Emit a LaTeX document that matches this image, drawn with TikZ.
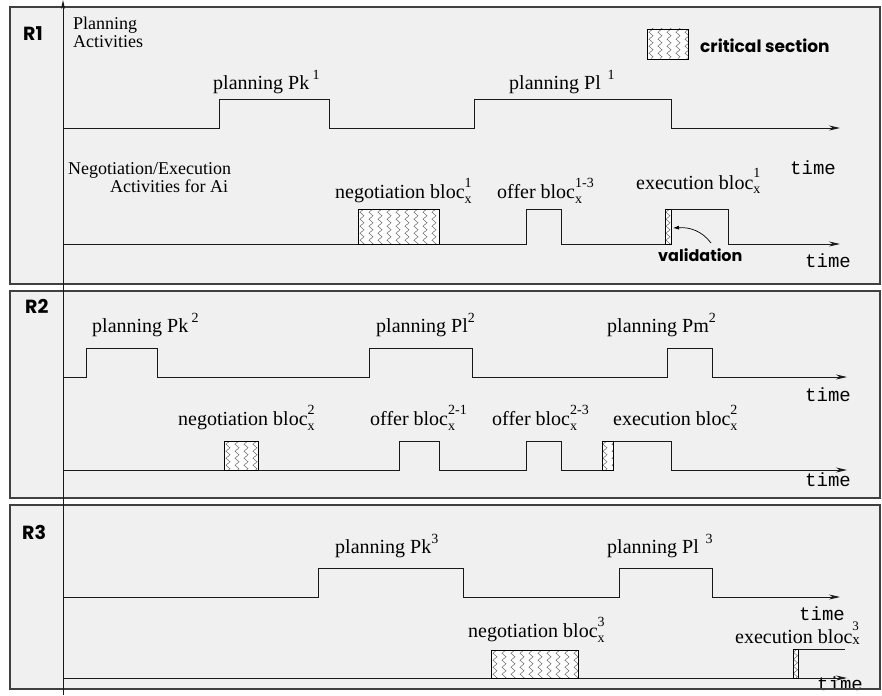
\documentclass[tikz,border=0pt]{standalone}
\usepackage{fontspec}
\setmainfont{Liberation Serif}
\newfontfamily\monof{Liberation Mono}
\newfontfamily\gfont{Poppins}
\usetikzlibrary{arrows.meta,decorations.pathmorphing}
\newcommand\upnum[1]{\raisebox{0.5em}{\fontsize{14}{14}\selectfont #1}}
\newcommand\blocx[1]{bloc\rlap{\raisebox{-0.25em}{\fontsize{14}{14}\selectfont x}}\raisebox{0.55em}{\fontsize{14}{14}\selectfont #1}}
\tikzset{
  panel/.style={draw=black!75, line width=1.3pt, fill=black!6},
  sig/.style={line width=0.9pt, draw=black!90},
  sigarrow/.style={sig, -{Stealth[length=11pt,width=5pt]}},
  lbl/.style={anchor=base west, inner sep=0pt, font=\fontsize{20}{22}\selectfont},
  axlbl/.style={anchor=base west, inner sep=0pt, font=\fontsize{18}{18}\selectfont},
  timelbl/.style={anchor=base west, inner sep=0pt, font=\monof\fontsize{19}{20}\selectfont},
  rlbl/.style={anchor=base west, inner sep=0pt, font=\gfont\bfseries\fontsize{19}{20}\selectfont},
  zz/.style={draw=black!70, line width=0.4pt, decorate, decoration={zigzag, segment length=7pt, amplitude=2pt}},
  critframe/.style={draw=black, line width=0.9pt}
}
% critical section box: x1 y1 x2 y2 first-line-offset spacing
\newcommand\critbox[6]{%
  \begin{scope}
    \clip (#1,#2) rectangle (#3,#4);
    \fill[white] (#1,#2) rectangle (#3,#4);
    \pgfmathsetmacro\zxa{#1+#5}\pgfmathsetmacro\zxb{#1+#5+#6}\pgfmathsetmacro\zxe{#3+1}
    \foreach \xx in {\zxa,\zxb,...,\zxe} \draw[zz] (\xx,#2-2) -- (\xx,#4+2);
  \end{scope}
  \draw[critframe] (#1,#2) rectangle (#3,#4);}
\begin{document}
\begin{tikzpicture}[x=1pt,y=-1pt]
\useasboundingbox (0,0) rectangle (882,695);
\fill[white] (0,0) rectangle (882,695);
% panels
\draw[panel] (10,7) rectangle (880,284);
\draw[panel] (10,291) rectangle (880,498);
\draw[panel] (10,505) rectangle (880,689);
\node[rlbl] (r1) at (23,41) {R1};
\node[rlbl] (r2) at (25,313) {R2};
\node[rlbl] (r3) at (22,539) {R3};
% ---------- R1
\node[axlbl] (pa1) at (73,30) {Planning};
\node[axlbl] (pa2) at (73,48) {Activities};
\node[axlbl] (ne1) at (68,175) {Negotiation/Execution};
\node[axlbl] (ne2) at (110,192) {Activities for Ai};
\critbox{647}{29}{688}{59}{4}{9}
\node[rlbl, font=\gfont\bfseries\fontsize{17}{18}\selectfont] (cs) at (700,53) {critical section};
\draw[sigarrow] (63,128) -- (219,128) -- (219,99) -- (329,99) -- (329,128) -- (474,128) -- (474,99) -- (671,99) -- (671,128) -- (840,128);
\node[lbl] (p1k) at (213,90) {planning Pk\,\upnum{1}};
\node[lbl] (p1l) at (509,90) {planning Pl\,\,\upnum{1}};
\node[timelbl] (t1a) at (790,175) {time};
\draw[sig] (63,244) -- (358,244);
\critbox{358}{209}{439}{244}{4}{9}
\draw[sig] (439,244) -- (526,244) -- (526,209) -- (561,209) -- (561,244) -- (665,244);
\critbox{665}{209}{671}{244}{3}{9}
\draw[sig] (671,209) -- (728,209) -- (728,244);
\draw[sigarrow] (728,244) -- (840,244);
\node[lbl] (n1) at (335,198) {negotiation \blocx{1}};
\node[lbl] (o13) at (497,198) {offer \blocx{1-3}};
\node[lbl] (e1) at (636,189) {execution \blocx{1}};
\node[rlbl, font=\gfont\bfseries\fontsize{16}{18}\selectfont] (val) at (658,261) {validation};
\coordinate (vstart) at (711,243);
\draw[line width=0.7pt, -{Latex[length=6pt,width=4pt]}] (vstart) .. controls (702,231) and (690,227) .. (673,228);
\node[timelbl] (t1b) at (805,267) {time};
% ---------- R2
\draw[sigarrow] (63,377) -- (86,377) -- (86,348) -- (157,348) -- (157,377) -- (369,377) -- (369,348) -- (472,348) -- (472,377) -- (667,377) -- (667,348) -- (712,348) -- (712,377) -- (847,377);
\node[lbl] (p2k) at (92,332) {planning Pk\,\upnum{2}};
\node[lbl] (p2l) at (376,332) {planning Pl\upnum{2}};
\node[lbl] (p2m) at (607,332) {planning Pm\upnum{2}};
\node[timelbl] (t2a) at (805,401) {time};
\draw[sig] (63,470) -- (224,470);
\critbox{224}{441}{258}{470}{4}{9}
\draw[sig] (258,470) -- (399,470) -- (399,441) -- (439,441) -- (439,470) -- (526,470) -- (526,441) -- (561,441) -- (561,470) -- (602,470);
\critbox{602}{441}{613}{470}{3}{9}
\draw[sig] (613,441) -- (671,441) -- (671,470);
\draw[sigarrow] (671,470) -- (847,470);
\node[lbl] (n2) at (178,425) {negotiation \blocx{2}};
\node[lbl] (o21) at (370,425) {offer \blocx{2-1}};
\node[lbl] (o23) at (492,425) {offer \blocx{2-3}};
\node[lbl] (e2) at (613,425) {execution \blocx{2}};
\node[timelbl] (t2b) at (805,486) {time};
% ---------- R3
\draw[sigarrow] (63,597) -- (318,597) -- (318,568) -- (463,568) -- (463,597) -- (619,597) -- (619,568) -- (712,568) -- (712,597) -- (840,597);
\node[lbl] (p3k) at (335,553) {planning Pk\upnum{3}};
\node[lbl] (p3l) at (607,553) {planning Pl\,\,\upnum{3}};
\node[timelbl] (t3a) at (799,620) {time};
\node[timelbl] (t3b) at (817,690) {time};
\draw[sigarrow] (63,678) -- (847,678);
\critbox{491}{650}{578}{678}{4}{9}
\critbox{793}{649}{798}{678}{2.5}{9}
\coordinate (e3end) at (845,649);
\draw[sig] (798,649) -- (e3end);
\node[lbl] (n3) at (468,637) {negotiation \blocx{3}};
\node[lbl] (e3) at (735,643) {execution bloc\rlap{\raisebox{-0.05em}{\fontsize{15}{15}\selectfont x}}\raisebox{0.65em}{\fontsize{13}{13}\selectfont 3}};
% redraw R3 bottom border over the time label
\draw[draw=black!75, line width=1.3pt] (10,689) -- (880,689);
% vertical axis
\draw[sig, -{Stealth[length=9pt,width=4pt]}] (63,695) -- (63,0);
\end{tikzpicture}
\end{document}
